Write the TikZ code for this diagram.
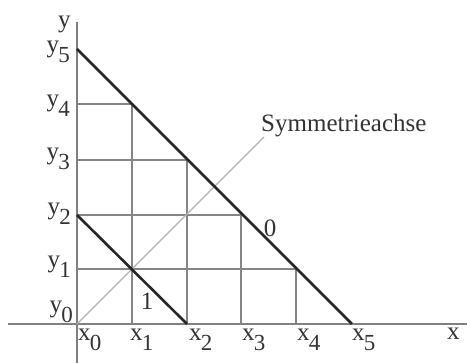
\documentclass[tikz,border=0pt]{standalone}
\usepackage{fontspec}
\setmainfont{Liberation Serif}
\newcommand{\sublab}[2]{#1\kern-0.8pt\raisebox{-9.5pt}{\fontsize{23}{25}\selectfont #2}}
\begin{document}
\begin{tikzpicture}[x=1pt,y=-1pt,
  axisline/.style={draw=black!50,line width=1.4pt},
  gridline/.style={draw=black!48,line width=1.3pt},
  symline/.style={draw=black!30,line width=1.3pt},
  heavyline/.style={draw=black!85,line width=2.6pt},
  lab/.style={inner sep=0pt,text=black!80,font=\fontsize{25}{28}\selectfont}]
\useasboundingbox[fill=white] (0,0) rectangle (467,363);
% grid coordinates
\foreach \i/\xx in {0/77,1/132,2/187,3/241,4/296,5/352}{
  \foreach \j/\yy in {0/324,1/269,2/215,3/160,4/104,5/49}{
    \coordinate (p\i\j) at (\xx,\yy);
  }}
\coordinate (xl) at (8,324);
\coordinate (xr) at (467,324);
\coordinate (yt) at (77,22);
\coordinate (yb) at (77,363);
\coordinate (se) at (264,137);
% axes
\draw[axisline] (xl) -- (xr);
\draw[axisline] (yt) -- (yb);
% grid
\draw[gridline] (p10) -- (p14);
\draw[gridline] (p20) -- (p23);
\draw[gridline] (p30) -- (p32);
\draw[gridline] (p40) -- (p41);
\draw[gridline] (p04) -- (p14);
\draw[gridline] (p03) -- (p23);
\draw[gridline] (p02) -- (p32);
\draw[gridline] (p01) -- (p41);
% symmetry axis
\draw[symline] (p00) -- (se);
% heavy lines
\draw[heavyline] (p05) -- (p50);
\draw[heavyline] (p02) -- (p20);
% labels
\node[lab,anchor=base west] (xlab) at (447,340) {x};
\node[lab,anchor=base west] (ylab) at (58,28) {y};
\node[lab,anchor=base west] (sym) at (261,132) {Symmetrieachse};
\node[lab,anchor=base] (zero) at (270,237) {0};
\node[lab,anchor=base] (one) at (147,310) {1};
\node[lab,anchor=base west] (x0) at (78,341) {\sublab{x}{0}};
\node[lab,anchor=base west] (x1) at (130,341) {\sublab{x}{1}};
\node[lab,anchor=base west] (x2) at (189,341) {\sublab{x}{2}};
\node[lab,anchor=base west] (x3) at (242,341) {\sublab{x}{3}};
\node[lab,anchor=base west] (x4) at (297,341) {\sublab{x}{4}};
\node[lab,anchor=base west] (x5) at (352,341) {\sublab{x}{5}};
\node[lab,anchor=base east] (y5) at (70,53) {\sublab{y}{5}};
\node[lab,anchor=base east] (y4) at (70,107) {\sublab{y}{4}};
\node[lab,anchor=base east] (y3) at (70,160) {\sublab{y}{3}};
\node[lab,anchor=base east] (y2) at (71,215) {\sublab{y}{2}};
\node[lab,anchor=base east] (y1) at (71,268) {\sublab{y}{1}};
\node[lab,anchor=base east] (y0) at (73,313) {\sublab{y}{0}};
\end{tikzpicture}
\end{document}
